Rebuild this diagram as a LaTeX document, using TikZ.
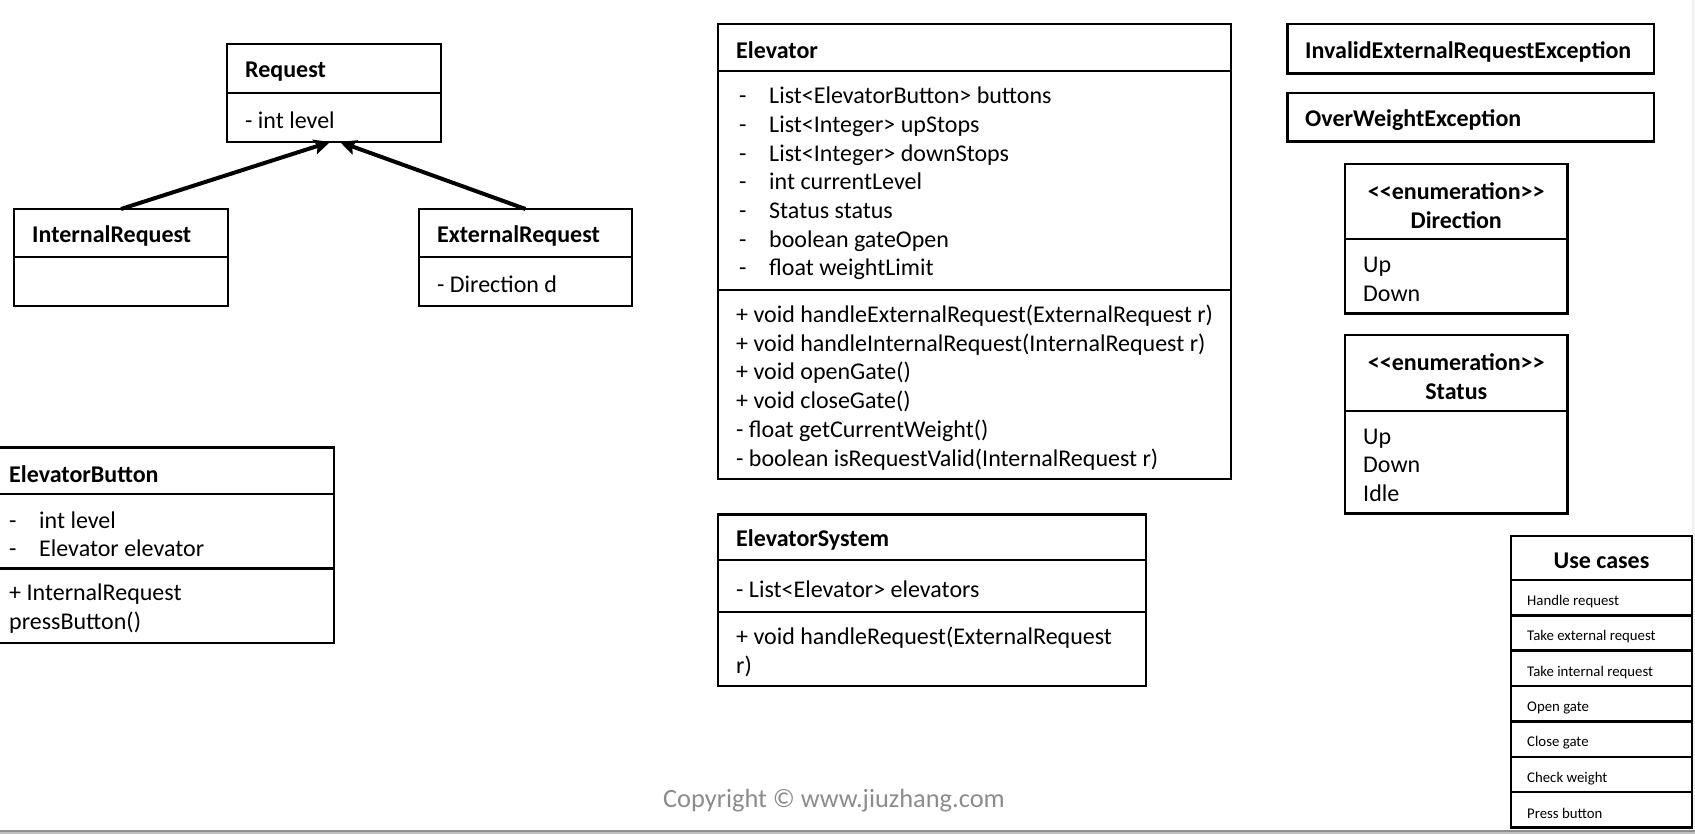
\documentclass[tikz,border=0pt]{standalone}
\usepackage{fontspec}
\setmainfont{Carlito}
\usetikzlibrary{arrows.meta,calc}
\definecolor{copygray}{RGB}{140,140,140}
\definecolor{edgegray}{RGB}{143,143,143}
\definecolor{edgelight}{RGB}{192,192,192}
\definecolor{stripgray}{RGB}{243,243,243}
\newcommand\umlfont{\fontsize{24}{28.7}\selectfont}
\newcommand\ucfont{\fontsize{14.8}{17}\selectfont}
\newcommand\attr[1]{\makebox[30pt][l]{-}#1}
\newcommand\stereo{{<}{<}enumeration{>}{>}}
\begin{document}
\begin{tikzpicture}[x=1pt,y=-1pt,
  box/.style={draw, line width=2.5pt, rectangle, anchor=north west, outer sep=0pt, inner sep=0pt},
  txt/.style={anchor=west, inner sep=0pt, align=left, font=\umlfont},
  ttl/.style={anchor=west, inner sep=0pt, align=left, font=\umlfont\bfseries},
  enumttl/.style={inner sep=0pt, align=center, font=\fontsize{24}{29}\selectfont\bfseries},
  uctxt/.style={anchor=west, inner sep=0pt, font=\ucfont},
  inherit/.style={line width=4pt, -{Stealth[length=16pt,width=15pt,inset=3pt]}},
]
\useasboundingbox (0,0) rectangle (1695,834);

% page edges
\fill[stripgray] (1692,0) rectangle (1695,830);
\fill[edgegray] (0,830) rectangle (1695,832);
\fill[edgelight] (0,832) rectangle (1695,834);

% Request hierarchy
\node[box, minimum width=214pt, minimum height=49pt] (reqT) at (227,44) {};
\node[box, minimum width=214pt, minimum height=49pt] (reqA) at (reqT.south west) {};
\node[ttl] at ($(reqT.west)+(18,3)$) {Request};
\node[txt] at ($(reqA.west)+(18,3)$) {- int level};

\node[box, minimum width=214pt, minimum height=48pt] (irT) at (14,209) {};
\node[box, minimum width=214pt, minimum height=49pt] (irA) at (irT.south west) {};
\node[ttl] at ($(irT.west)+(18,3)$) {InternalRequest};

\node[box, minimum width=213pt, minimum height=48pt] (erT) at (419,209) {};
\node[box, minimum width=213pt, minimum height=49pt] (erA) at (erT.south west) {};
\node[ttl] at ($(erT.west)+(18,3)$) {ExternalRequest};
\node[txt] at ($(erA.west)+(18,3)$) {- Direction d};

\draw[inherit] (irT.north) -- ($(reqA.south)+(-4,0)$);
\draw[inherit] (erT.north) -- ($(reqA.south)+(6,0)$);

% ElevatorButton
\node[box, minimum width=343pt, minimum height=46.5pt] (ebT) at (-9,447.5) {};
\node[box, minimum width=343pt, minimum height=74.6pt] (ebA) at (ebT.south west) {};
\node[box, minimum width=343pt, minimum height=74.4pt] (ebM) at (ebA.south west) {};
\node[ttl] at ($(ebT.west)+(18,3)$) {ElevatorButton};
\node[txt] at ($(ebA.west)+(18,3)$) {\attr{int level}\\\attr{Elevator elevator}};
\node[txt] at ($(ebM.west)+(18,3)$) {+ InternalRequest\\pressButton()};

% Elevator
\node[box, minimum width=513pt, minimum height=47pt] (elT) at (718,24) {};
\node[box, minimum width=513pt, minimum height=219pt] (elA) at (elT.south west) {};
\node[box, minimum width=513pt, minimum height=189pt] (elM) at (elA.south west) {};
\node[ttl] at ($(elT.west)+(18,3)$) {Elevator};
\node[txt] at ($(elA.west)+(21,3)$) {\attr{List<ElevatorButton> buttons}\\
  \attr{List<Integer> upStops}\\
  \attr{List<Integer> downStops}\\
  \attr{int currentLevel}\\
  \attr{Status status}\\
  \attr{boolean gateOpen}\\
  \attr{float weightLimit}};
\node[txt] at ($(elM.west)+(18,3)$) {+ void handleExternalRequest(ExternalRequest r)\\
  + void handleInternalRequest(InternalRequest r)\\
  + void openGate()\\
  + void closeGate()\\
  - float getCurrentWeight()\\
  - boolean isRequestValid(InternalRequest r)};

% ElevatorSystem
\node[box, minimum width=428pt, minimum height=45.5pt] (esT) at (718,514.5) {};
\node[box, minimum width=428pt, minimum height=52pt] (esA) at (esT.south west) {};
\node[box, minimum width=428pt, minimum height=74pt] (esM) at (esA.south west) {};
\node[ttl] at ($(esT.west)+(18,3)$) {ElevatorSystem};
\node[txt] at ($(esA.west)+(18,3)$) {- List<Elevator> elevators};
\node[txt] at ($(esM.west)+(18,3)$) {+ void handleRequest(ExternalRequest\\r)};

% Exceptions
\node[box, minimum width=366.5pt, minimum height=49.5pt] (inv) at (1287.5,24) {};
\node[ttl] at ($(inv.west)+(17.5,3)$) {InvalidExternalRequestException};
\node[box, minimum width=366.5pt, minimum height=48.6pt] (ovw) at (1287.5,93) {};
\node[ttl] at ($(ovw.west)+(17.5,3)$) {OverWeightException};

% Enumerations
\node[box, minimum width=222.5pt, minimum height=75pt] (dirT) at (1345,164) {};
\node[box, minimum width=222.5pt, minimum height=74.5pt] (dirA) at (dirT.south west) {};
\node[enumttl] at ($(dirT.center)+(0,4)$) {\stereo\\Direction};
\node[txt] at ($(dirA.west)+(18,3)$) {Up\\Down};

\node[box, minimum width=222.5pt, minimum height=76pt] (stT) at (1345,335) {};
\node[box, minimum width=222.5pt, minimum height=102.5pt] (stA) at (stT.south west) {};
\node[enumttl] at ($(stT.center)+(0,4)$) {\stereo\\Status};
\node[txt] at ($(stA.west)+(18,3)$) {Up\\Down\\Idle};

% Use cases
\node[box, minimum width=181pt, minimum height=44pt] (ucT) at (1511,536) {};
\node[font=\umlfont\bfseries, inner sep=0pt] at ($(ucT.center)+(0,3)$) {Use cases};
\node[box, minimum width=181pt, minimum height=35.36pt] (uc1) at (ucT.south west) {};
\node[box, minimum width=181pt, minimum height=35.36pt] (uc2) at (uc1.south west) {};
\node[box, minimum width=181pt, minimum height=35.36pt] (uc3) at (uc2.south west) {};
\node[box, minimum width=181pt, minimum height=35.36pt] (uc4) at (uc3.south west) {};
\node[box, minimum width=181pt, minimum height=35.36pt] (uc5) at (uc4.south west) {};
\node[box, minimum width=181pt, minimum height=35.36pt] (uc6) at (uc5.south west) {};
\node[box, minimum width=181pt, minimum height=35.36pt] (uc7) at (uc6.south west) {};
\node[uctxt] at ($(uc1.west)+(16,4)$) {Handle request};
\node[uctxt] at ($(uc2.west)+(16,4)$) {Take external request};
\node[uctxt] at ($(uc3.west)+(16,4)$) {Take internal request};
\node[uctxt] at ($(uc4.west)+(16,4)$) {Open gate};
\node[uctxt] at ($(uc5.west)+(16,4)$) {Close gate};
\node[uctxt] at ($(uc6.west)+(16,4)$) {Check weight};
\node[uctxt] at ($(uc7.west)+(16,4)$) {Press button};

% Footer
\node[text=copygray, font=\fontsize{26.4}{31}\selectfont, inner sep=0pt] (copy) at (834,801) {Copyright © www.jiuzhang.com};
\end{tikzpicture}
\end{document}
